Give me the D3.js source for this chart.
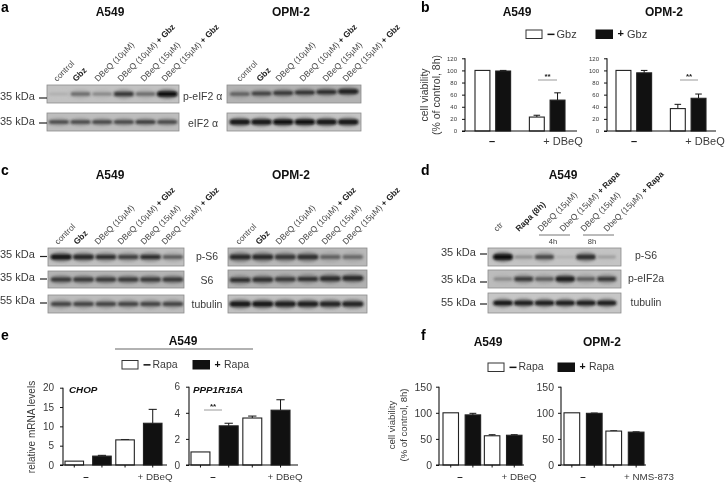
<!DOCTYPE html>
<html><head><meta charset="utf-8">
<script src="https://cdnjs.cloudflare.com/ajax/libs/d3/7.8.5/d3.min.js"></script>
<style>
html,body{margin:0;padding:0;background:#fff}
svg{display:block;filter:blur(0.45px)}
text{font-family:"Liberation Sans",Arial,sans-serif}
</style></head><body><svg id="c" width="725" height="483"></svg>
<script>
// ---------- data ----------
const gbzLanes = ["control","Gbz","DBeQ (10µM)","DBeQ (10µM) + Gbz","DBeQ (15µM)","DBeQ (15µM) + Gbz"];
const rapaLanes = ["ctr","Rapa (8h)","DBeQ (15µM)","DbeQ (15µM) + Rapa","DBeQ (15µM)","DbeQ (15µM) + Rapa"];
const boldLanes = ["Gbz","Rapa (8h)"];

// band density per lane, 0 (none) to 1 (black)
const aA549Peif = [0.06,0.45,0.3,0.75,0.45,1];
const aA549Eif  = [0.68,0.7,0.72,0.72,0.78,0.72];
const aOpmPeif  = [0.55,0.7,0.78,0.8,0.85,0.92];
const aOpmEif   = [0.95,0.95,0.97,0.97,0.95,0.95];
const cA549Ps6  = [0.95,0.85,0.8,0.7,0.8,0.55];
const cA549S6   = [0.75,0.75,0.75,0.75,0.75,0.75];
const cA549Tub  = [0.72,0.72,0.72,0.72,0.72,0.72];
const cOpmPs6   = [0.85,0.85,0.75,0.8,0.5,0.45];
const cOpmS6    = [0.8,0.8,0.75,0.78,0.85,0.85];
const cOpmTub   = [0.95,0.95,0.92,0.9,0.88,0.88];
const dPs6      = [1,0.25,0.65,0.05,0.8,0.15];
const dPeif     = [0.3,0.75,0.55,0.9,0.55,0.75];
const dTub      = [0.95,0.92,0.92,0.92,0.92,0.92];

const groups = ["–","+ DBeQ"];
const groupsNms = ["–","+ NMS-873"];
const bValA549 = [100,99,23,51],  bErrA549 = [0,1,3,12];
const bValOpm  = [100,96,37,54],  bErrOpm  = [0,4,7,7];
const eValChop = [1,2.3,6.5,10.8], eErrChop = [0,0.2,0.1,3.6];
const eValPpp  = [1,3,3.6,4.2],    eErrPpp  = [0,0.2,0.15,0.8];
const fValA549 = [100,96,56,57],  fErrA549 = [0,3,2,1];
const fValOpm  = [100,99,65,63],  fErrOpm  = [0,0.5,0.5,0.5];
const yTicks120 = [0,20,40,60,80,100,120];
const yTicks20 = [0,5,10,15,20];
const yTicks6 = [0,2,4,6];
const yTicks150 = [0,50,100,150];

// ---------- drawing ----------
const svg = d3.select("#c");
const defs = svg.append("defs");
defs.append("filter").attr("id","b1").attr("x","-30%").attr("y","-80%").attr("width","160%").attr("height","260%")
  .append("feGaussianBlur").attr("stdDeviation",0.9);
defs.append("filter").attr("id","b2").attr("x","-30%").attr("y","-100%").attr("width","160%").attr("height","300%")
  .append("feGaussianBlur").attr("stdDeviation",1.8);

const density = d3.scaleLinear().domain([0,1]).range(["#b8b8b8","#0c0c0c"]);
const TXT = "#3a3a3a";

function txt(x,y,s,o={}){
  return svg.append("text").attr("x",x).attr("y",y).text(s)
    .attr("font-size",o.size||10).attr("fill",o.fill||TXT)
    .attr("font-weight",o.bold?"bold":"normal").attr("font-style",o.italic?"italic":"normal")
    .attr("text-anchor",o.anchor||"start").attr("dominant-baseline","middle");
}
function blot(vals,x0,x1,y0,y1,r0,r1,bg,o={}){
  const g = svg.append("g");
  g.append("rect").attr("x",x0).attr("y",y0).attr("width",x1-x0).attr("height",y1-y0)
    .attr("fill",bg).attr("stroke","#8c8c8c").attr("stroke-width",0.8);
  const clipId = "k"+x0+"_"+y0;
  svg.select("defs").append("clipPath").attr("id",clipId).append("rect")
    .attr("x",x0).attr("y",y0).attr("width",x1-x0).attr("height",y1-y0);
  const lanes = d3.scaleBand().domain(d3.range(vals.length)).range([r0,r1]);
  const ym = (y0+y1)/2 + (o.dy||0);
  const h = o.h||4.2;
  const inner = g.append("g").attr("clip-path",`url(#${clipId})`);
  const rise = o.rise||0;
  inner.selectAll("ellipse.halo").data(vals).join("ellipse").attr("class","halo")
    .attr("cx",(d,i)=>lanes(i)+lanes.bandwidth()/2)
    .attr("cy",(d,i)=>ym-rise*i)
    .attr("rx",lanes.bandwidth()*0.52).attr("ry",h*1.05)
    .attr("fill",d=>density(d*0.55)).attr("opacity",d=>d*0.8).attr("filter","url(#b2)");
  inner.selectAll("rect.band").data(vals).join("rect").attr("class","band")
    .attr("x",(d,i)=>lanes(i)+lanes.bandwidth()*0.05)
    .attr("y",(d,i)=>ym-rise*i-(h*(0.55+0.45*d))/2)
    .attr("width",lanes.bandwidth()*0.9)
    .attr("height",d=>h*(0.55+0.45*d)).attr("rx",2)
    .attr("fill",d=>density(d)).attr("filter","url(#b1)");
}
function laneLabels(labels,xs,y){
  labels.forEach((s,i)=>{
    const t = svg.append("text").attr("transform",`translate(${xs[i]},${y}) rotate(-45)`)
      .attr("font-size",8.4).attr("fill","#4a4a4a");
    if(boldLanes.includes(s)){ t.text(s).attr("font-weight","bold").attr("fill","#222"); return; }
    const parts = s.split(" + ");
    t.append("tspan").text(parts[0]+(parts[1]?" ":""));
    if(parts[1]) t.append("tspan").attr("font-weight","bold").attr("fill","#222").text("+ "+parts[1]);
  });
}
function kda(s,tx,ty,x0,x1,ly){
  txt(tx,ty,s,{size:11});
  svg.append("line").attr("x1",x0).attr("x2",x1).attr("y1",ly).attr("y2",ly).attr("stroke","#222").attr("stroke-width",1.2);
}
function legend(xw,xb,y,label,size){
  svg.append("rect").attr("x",xw).attr("y",y).attr("width",16).attr("height",8.5).attr("fill","#fff").attr("stroke","#333").attr("stroke-width",1);
  svg.append("rect").attr("x",xb).attr("y",y).attr("width",16.5).attr("height",8.5).attr("fill","#111").attr("stroke","#111").attr("stroke-width",1);
  svg.append("rect").attr("x",xw+21.5).attr("y",y+3.6).attr("width",7).attr("height",1.5).attr("fill","#111");
  txt(xw+30.5,y+4.6,label,{size});
  txt(xb+21.5,y+4.4,"+",{size,bold:true,fill:"#111"});
  txt(xb+31,y+4.6,label,{size});
}
function barChart(o){
  const g = svg.append("g");
  const y = d3.scaleLinear().domain(o.domain).range([o.y0,o.y1]);
  const x0 = d3.scaleBand().domain(o.groups).range(o.xr).paddingInner(o.pad||0.36);
  const x1 = d3.scaleBand().domain([0,1]).range([0,x0.bandwidth()]).paddingInner(o.padIn||0.29);
  const rows = o.vals.map((v,i)=>({v,e:o.errs[i],g:o.groups[i>>1],s:i%2}));
  const cx = d=>x0(d.g)+x1(d.s)+x1.bandwidth()/2;
  const axisG = g.append("g").attr("transform",`translate(${o.ax},0)`)
    .call(d3.axisLeft(y).tickValues(o.ticks).tickFormat(d3.format("d")).tickSize(o.tickLen||3).tickPadding(o.tickPad||3));
  axisG.select(".domain").attr("stroke","#111").attr("stroke-width",1.1).attr("d",`M0,${o.y0}V${o.y1}`);
  axisG.selectAll(".tick line").attr("stroke","#111").attr("stroke-width",1);
  axisG.selectAll(".tick text").attr("font-size",o.tickFont).attr("fill",TXT).attr("font-family",'"Liberation Sans",Arial,sans-serif');
  const errs = rows.filter(d=>d.e>0);
  g.selectAll("line.err").data(errs).join("line").attr("x1",cx).attr("x2",cx).attr("y1",d=>y(d.v)).attr("y2",d=>y(d.v+d.e)).attr("stroke","#111").attr("stroke-width",1);
  g.selectAll("line.cap").data(errs).join("line").attr("x1",d=>cx(d)-x1.bandwidth()*0.22).attr("x2",d=>cx(d)+x1.bandwidth()*0.22).attr("y1",d=>y(d.v+d.e)).attr("y2",d=>y(d.v+d.e)).attr("stroke","#111").attr("stroke-width",1);
  g.selectAll("rect.bar").data(rows).join("rect")
    .attr("x",d=>x0(d.g)+x1(d.s)).attr("width",x1.bandwidth())
    .attr("y",d=>y(d.v)).attr("height",d=>o.y0-y(d.v))
    .attr("fill",d=>d.s?"#111":"#fff").attr("stroke","#222").attr("stroke-width",1.1);
  g.append("line").attr("x1",o.ax-(o.tickLen||3)).attr("x2",o.xEnd).attr("y1",o.y0).attr("y2",o.y0).attr("stroke","#111").attr("stroke-width",1.2);
  if(o.xTicks) g.selectAll("line.xt").data(rows).join("line").attr("x1",cx).attr("x2",cx).attr("y1",o.y0).attr("y2",o.y0+2.5).attr("stroke","#111").attr("stroke-width",1);
  o.groupLabels.forEach((c,i)=>txt(c,o.catY,o.groups[i],{size:o.catFont,anchor:"middle",bold:i===0,fill:i===0?"#111":TXT}));
  if(o.sig){
    svg.append("line").attr("x1",o.sig[0]).attr("x2",o.sig[1]).attr("y1",o.sig[2]).attr("y2",o.sig[2]).attr("stroke","#9a9a9a").attr("stroke-width",1);
    txt((o.sig[0]+o.sig[1])/2,o.sig[2]-3.2,"**",{size:8,bold:true,anchor:"middle",fill:"#222"});
  }
}
function vtext(x,y,s,size){
  svg.append("text").attr("transform",`translate(${x},${y}) rotate(-90)`).attr("text-anchor","middle")
    .attr("dominant-baseline","middle").attr("font-size",size).attr("fill",TXT).text(s);
}

// panel letters
[["a",1,8],["b",421,8],["c",1,171],["d",421,171],["e",1,336],["f",421,336]].forEach(p=>txt(p[1],p[2],p[0],{size:14,bold:true,fill:"#000"}));

// titles
[[110,13,"A549"],[291,13,"OPM-2"],[517,13,"A549"],[664,13,"OPM-2"],[110,176,"A549"],[291,176,"OPM-2"],[563,176,"A549"],[183,342,"A549"],[488,343,"A549"],[602,343,"OPM-2"]]
  .forEach(t=>txt(t[0],t[1],t[2],{size:12,bold:true,anchor:"middle",fill:"#111"}));

// panel a
laneLabels(gbzLanes,[57,76,98,121,144,165],82);
laneLabels(gbzLanes,[240,260,279,303,326,346],82);
blot(aA549Peif,47,179,85,103,48,178,"#c2c2c2",{dy:0,h:4.5});
blot(aA549Eif,47,179,113,131,48,178,"#bdbdbd",{h:3.6});
blot(aOpmPeif,227,361,85,103,229,359,"#b2b2b2",{h:4,dy:0,rise:0.5});
blot(aOpmEif,227,361,113,131,229,359,"#c4c4c4",{h:4.4});
kda("35 kDa",0,97,39,47,98); kda("35 kDa",0,122,39,47,123);
txt(183,97,"p-eIF2 α",{size:10.5}); txt(188,124,"eIF2 α",{size:10.5});

// panel c
laneLabels(gbzLanes,[58,77,98,121,144,165],245);
laneLabels(gbzLanes,[239,259,279,302,325,346],245);
blot(cA549Ps6,48,184,248,266,50,184,"#c0c0c0",{h:4.6});
blot(cA549S6,48,184,271,288,50,184,"#b4b4b4",{h:4.4});
blot(cA549Tub,48,184,295,313,50,184,"#bcbcbc",{h:4.2});
blot(cOpmPs6,228,367,248,266,229,364,"#b8b8b8",{h:5});
blot(cOpmS6,228,367,270,288,229,364,"#b0b0b0",{h:4.6,rise:0.35,dy:1});
blot(cOpmTub,228,367,295,313,229,364,"#c0c0c0",{h:4.6});
kda("35 kDa",0,255.5,40,47,256.5); kda("35 kDa",0,278,40,47,279); kda("55 kDa",0,301.5,40,47,303);
txt(207,257,"p-S6",{size:10.5,anchor:"middle"}); txt(207,281,"S6",{size:10.5,anchor:"middle"}); txt(207,305,"tubulin",{size:10.5,anchor:"middle"});

// panel d
laneLabels(rapaLanes,[497,519,541,563,584,607],232);
blot(dPs6,488,621,248,266,492.6,617,"#c4c4c4",{h:4.8});
blot(dPeif,488,621,270,288,492.6,617,"#bcbcbc",{h:4.6});
blot(dTub,488,621,293,313,492.6,617,"#c6c6c6",{h:4.2});
kda("35 kDa",441,253,480,487,254); kda("35 kDa",441,280,480,487,282); kda("55 kDa",441,303,480,487,304);
txt(646,256,"p-S6",{size:10.5,anchor:"middle"}); txt(646,279,"p-eIF2a",{size:10.5,anchor:"middle"}); txt(646,303,"tubulin",{size:10.5,anchor:"middle"});
[[539,570,553,"4h"],[583,614,592,"8h"]].forEach(b=>{
  svg.append("line").attr("x1",b[0]).attr("x2",b[1]).attr("y1",235).attr("y2",235).attr("stroke","#777").attr("stroke-width",1);
  txt(b[2],242.5,b[3],{size:7.5,anchor:"middle"});
});

// panel b
legend(526,596,30,"Gbz",11);
barChart({vals:bValA549,errs:bErrA549,groups,domain:[0,120],y0:131,y1:58.3,ax:465,xr:[475,565],xEnd:577,ticks:yTicks120,tickFont:6,tickLen:3,tickPad:5,groupLabels:[492,563],catY:142,catFont:11,sig:[538,557,80],pad:0.345,padIn:0.28});
barChart({vals:bValOpm,errs:bErrOpm,groups,domain:[0,120],y0:131,y1:58.3,ax:607,xr:[616,706],xEnd:716,ticks:yTicks120,tickFont:6,tickLen:3,tickPad:5,groupLabels:[634,705],catY:142,catFont:11,sig:[680,698,80],pad:0.345,padIn:0.28});
vtext(425,95,"cell viability",10.5); vtext(437,95,"(% of control, 8h)",10.5);

// panel e
svg.append("line").attr("x1",115).attr("x2",253).attr("y1",349).attr("y2",349).attr("stroke","#999").attr("stroke-width",1.4);
legend(122,193,360.5,"Rapa",10.5);
barChart({vals:eValChop,errs:eErrChop,groups,domain:[0,20],y0:465,y1:387.7,ax:63,xr:[65,162],xEnd:167,ticks:yTicks20,tickFont:10,tickLen:3,tickPad:6,groupLabels:[86,155],catY:477,catFont:9.8,xTicks:true,pad:0.09,padIn:0.33});
barChart({vals:eValPpp,errs:eErrPpp,groups,domain:[0,6],y0:465,y1:386.7,ax:189,xr:[191,290],xEnd:298,ticks:yTicks6,tickFont:10,tickLen:3,tickPad:6,groupLabels:[213,285],catY:477,catFont:9.8,xTicks:true,pad:0.09,padIn:0.33,sig:[204,222,410]});
txt(69,390,"CHOP",{size:9.8,bold:true,italic:true,fill:"#111"});
txt(193,390,"PPP1R15A",{size:9.8,bold:true,italic:true,fill:"#111"});
vtext(32,427,"relative mRNA levels",10);

// panel f
legend(488,558,363,"Rapa",10.5);
barChart({vals:fValA549,errs:fErrA549,groups,domain:[0,150],y0:465,y1:386.7,ax:439,xr:[443,522],xEnd:524,ticks:yTicks150,tickFont:10.5,tickLen:3,tickPad:4,groupLabels:[460,519],catY:477,catFont:9.8,xTicks:true,pad:0.09,padIn:0.3});
barChart({vals:fValOpm,errs:fErrOpm,groups:groupsNms,domain:[0,150],y0:465,y1:386.7,ax:561,xr:[564,644],xEnd:646,ticks:yTicks150,tickFont:10.5,tickLen:3,tickPad:4,groupLabels:[583,649],catY:477,catFont:9.8,xTicks:true,pad:0.09,padIn:0.3});
vtext(392,425,"cell viability",9.6); vtext(404,425,"(% of control, 8h)",9.6);
</script></body></html>
